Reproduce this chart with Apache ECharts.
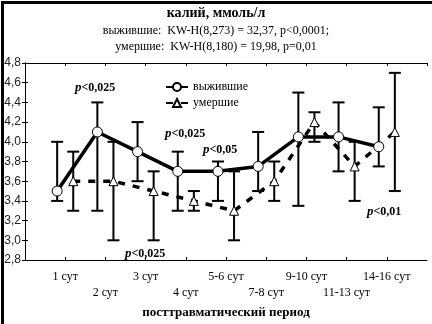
<!DOCTYPE html>
<html>
<head>
<meta charset="utf-8">
<script src="https://cdn.jsdelivr.net/npm/echarts@6/dist/echarts.min.js"></script>
<style>
  html, body { margin: 0; padding: 0; background: #fff; }
  #chart { width: 432px; height: 324px; }
</style>
</head>
<body>
<div id="chart"></div>
<script>
// Period categories (x positions 1..9)
const categories = ['1 сут', '2 сут', '3 сут', '4 сут', '5-6 сут', '7-8 сут', '9-10 сут', '11-13 сут', '14-16 сут'];

// Survivors: mean and whisker range
const survMean = [3.5, 4.1, 3.9, 3.7, 3.7, 3.75, 4.05, 4.05, 3.95];
const survLow  = [3.4, 3.3, 3.6, 3.3, 3.4, 3.5, 3.35, 3.7, 3.75];
const survHigh = [4.0, 4.4, 4.2, 3.9, 3.8, 4.1, 4.5, 4.4, 4.35];

// Deceased: mean and whisker range
const diedMean = [3.6, 3.6, 3.5, 3.4, 3.3, 3.6, 4.2, 3.75, 4.1];
const diedLow  = [3.3, 3.0, 3.0, 3.3, 3.0, 3.4, 4.0, 3.4, 3.5];
const diedHigh = [3.9, 4.0, 3.7, 3.5, 3.7, 3.8, 4.3, 4.0, 4.7];

const seriesNames = ['выжившие', 'умершие'];
const shift = 0.2; // horizontal offset of the two groups around each period

const serif = '"Liberation Serif", "Times New Roman", serif';
const sans = '"Liberation Sans", Arial, sans-serif';

const survPts = survMean.map((v, i) => [i + 1 - shift, v]);
const diedPts = diedMean.map((v, i) => [i + 1 + shift, v]);
const survBars = survMean.map((v, i) => [i + 1 - shift, survLow[i], survHigh[i]]);
const diedBars = diedMean.map((v, i) => [i + 1 + shift, diedLow[i], diedHigh[i]]);

function whisker(params, api) {
  const x = api.value(0);
  const lo = api.coord([x, api.value(1)]);
  const hi = api.coord([x, api.value(2)]);
  const cap = 6;
  const style = { stroke: '#000', lineWidth: 2 };
  return {
    type: 'group',
    children: [
      { type: 'line', shape: { x1: lo[0], y1: lo[1], x2: hi[0], y2: hi[1] }, style },
      { type: 'line', shape: { x1: lo[0] - cap, y1: lo[1], x2: lo[0] + cap, y2: lo[1] }, style },
      { type: 'line', shape: { x1: hi[0] - cap, y1: hi[1], x2: hi[0] + cap, y2: hi[1] }, style }
    ]
  };
}

const fmtY = v => v.toFixed(1).replace('.', ',');

function pText(x, y, rest) {
  return {
    type: 'text', left: x, top: y,
    style: {
      text: '{i|p}{b|' + rest + '}',
      rich: {
        i: { font: 'italic bold 13px ' + serif, fill: '#000' },
        b: { font: 'bold 12px ' + serif, fill: '#000' }
      }
    }
  };
}

const chart = echarts.init(document.getElementById('chart'), null, { renderer: 'canvas' });

chart.setOption({
  animation: false,
  backgroundColor: '#fff',
  grid: { left: 25, right: 5, top: 63, bottom: 57 },
  legend: {
    data: seriesNames,
    orient: 'vertical',
    left: 160, top: 76,
    itemWidth: 22, itemHeight: 10, itemGap: 4,
    textStyle: { fontFamily: serif, fontSize: 12, color: '#000' }
  },
  xAxis: [{
    type: 'value', min: 0, max: 10, interval: 1,
    name: 'посттравматический период',
    nameLocation: 'middle', nameGap: 46,
    nameTextStyle: { fontFamily: serif, fontWeight: 'bold', fontSize: 13, color: '#000' },
    axisLine: { lineStyle: { color: '#000', width: 1 } },
    axisTick: { inside: true, length: 3, lineStyle: { color: '#000' } },
    splitLine: { show: false },
    axisLabel: {
      fontFamily: serif, fontSize: 12, color: '#000', margin: 9, lineHeight: 16,
      showMinLabel: false, showMaxLabel: false,
      formatter: v => {
        if (v < 1 || v > categories.length) return '';
        const lab = categories[v - 1];
        return (v % 2 === 1) ? lab : '\n' + lab;
      }
    }
  }, {
    type: 'value', position: 'top', min: 0, max: 10, interval: 1,
    axisLine: { lineStyle: { color: '#000', width: 1 } },
    axisTick: { inside: true, length: 3, lineStyle: { color: '#000' } },
    axisLabel: { show: false },
    splitLine: { show: false }
  }],
  yAxis: [{
    type: 'value', min: 2.8, max: 4.8, interval: 0.2,
    axisLine: { show: true, lineStyle: { color: '#000', width: 1 } },
    axisTick: { show: true, inside: true, length: 3, lineStyle: { color: '#000' } },
    splitLine: { show: false },
    axisLabel: { fontFamily: sans, fontSize: 12, color: '#222', margin: 4, formatter: fmtY }
  }, {
    type: 'value', position: 'right', min: 2.8, max: 4.8, interval: 0.2,
    axisLine: { show: true, lineStyle: { color: '#000', width: 1 } },
    axisTick: { show: true, inside: true, length: 3, lineStyle: { color: '#000' } },
    axisLabel: { show: false },
    splitLine: { show: false }
  }],
  graphic: [
    { type: 'rect', left: 0, top: 0, shape: { width: 432, height: 324 },
      style: { fill: 'none', stroke: '#000', lineWidth: 3 }, z: 100 },
    { type: 'text', left: 'center', top: 6,
      style: { text: 'калий, ммоль/л', font: 'bold 14px ' + serif, fill: '#000' } },
    { type: 'text', left: 'center', top: 25,
      style: { text: 'выжившие:  KW-H(8,273) = 32,37, p<0,0001;', font: '12px ' + serif, fill: '#000' } },
    { type: 'text', left: 'center', top: 41,
      style: { text: 'умершие:  KW-H(8,180) = 19,98, p=0,01', font: '12px ' + serif, fill: '#000' } },
    pText(75, 81, '<0,025'),
    pText(165, 127, '<0,025'),
    pText(203, 143, '<0,05'),
    pText(125, 247, '<0,025'),
    pText(367, 205, '<0,01')
  ],
  series: [
    { type: 'custom', renderItem: whisker, data: survBars, z: 2, silent: true,
      encode: { x: 0, y: [1, 2] } },
    { type: 'custom', renderItem: whisker, data: diedBars, z: 2, silent: true,
      encode: { x: 0, y: [1, 2] } },
    {
      name: seriesNames[1], type: 'line', data: diedPts, z: 3,
      symbol: 'triangle', symbolSize: 9,
      itemStyle: { color: '#fff', borderColor: '#000', borderWidth: 1 },
      lineStyle: { color: '#000', width: 3.5, type: [7, 8] }
    },
    {
      name: seriesNames[0], type: 'line', data: survPts, z: 4,
      symbol: 'circle', symbolSize: 10,
      itemStyle: { color: '#fff', borderColor: '#000', borderWidth: 1 },
      lineStyle: { color: '#000', width: 3.5 }
    }
  ]
});
</script>
</body>
</html>
